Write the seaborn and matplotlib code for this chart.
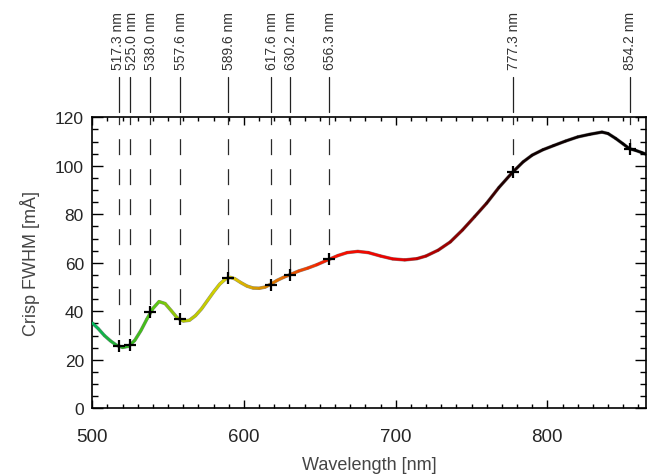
import numpy as np
import pandas as pd
import matplotlib
matplotlib.use("Agg")
import matplotlib.pyplot as plt
import matplotlib.transforms as mtransforms
from matplotlib.collections import LineCollection
from matplotlib.colors import LinearSegmentedColormap
from matplotlib.ticker import MultipleLocator
import seaborn as sns

# ---- data ----
wavelength = [500, 504, 508, 512, 516, 520, 524, 528, 532, 536, 540, 544, 548, 552,
              556, 560, 564, 568, 572, 576, 580, 584, 588, 591, 594, 598, 602, 606,
              610, 614, 618, 622, 626, 630, 636, 642, 648, 656, 662, 668, 675, 682,
              690, 698, 706, 714, 720, 728, 736, 744, 752, 760, 768, 777, 784, 790,
              797, 804, 812, 820, 828, 836, 840, 845, 850, 854.2, 858, 862, 865]
fwhm = [35.2, 32.8, 30.0, 27.8, 26.0, 25.1, 25.6, 28.0, 32.0, 36.8, 41.2, 44.0, 43.2, 40.3,
        37.3, 36.0, 36.3, 38.2, 41.0, 44.5, 48.0, 51.2, 53.4, 54.0, 53.4, 51.8, 50.4, 49.6,
        49.5, 50.0, 51.3, 52.8, 54.0, 55.0, 56.6, 57.8, 59.2, 61.4, 63.0, 64.2, 64.7, 64.2,
        62.8, 61.6, 61.2, 61.7, 62.8, 65.2, 68.6, 73.5, 79.0, 84.6, 91.0, 97.3, 101.6, 104.4,
        106.6, 108.3, 110.2, 111.9, 113.0, 113.9, 113.3, 111.3, 109.0, 107.0, 106.4, 105.5, 104.8]

line_wl = [517.3, 525.0, 538.0, 557.6, 589.6, 617.6, 630.2, 656.3, 777.3, 854.2]
line_fwhm = [25.8, 26.1, 39.7, 36.7, 53.9, 51.0, 55.1, 61.5, 97.3, 107.0]
line_labels = ["517.3 nm", "525.0 nm", "538.0 nm", "557.6 nm", "589.6 nm",
               "617.6 nm", "630.2 nm", "656.3 nm", "777.3 nm", "854.2 nm"]

x_ticks = [500, 600, 700, 800]
y_ticks = [0, 20, 40, 60, 80, 100, 120]

curve = pd.DataFrame({"wl": wavelength, "fwhm": fwhm})
marks = pd.DataFrame({"wl": line_wl, "fwhm": line_fwhm})

# ---- style ----
sns.set_style("ticks")
plt.rcParams["font.family"] = ["Liberation Sans", "DejaVu Sans"]
plt.rcParams["lines.scale_dashes"] = False

fig = plt.figure(figsize=(6.63, 4.77), dpi=100)
ax = fig.add_axes([0.1392, 0.1419, 0.8351, 0.6101])

# wavelength colour map (style)
stops = [(500, (0.00, 0.72, 0.38)), (517, (0.16, 0.67, 0.16)), (540, (0.32, 0.78, 0.08)),
         (560, (0.70, 0.78, 0.00)), (590, (0.87, 0.83, 0.00)), (608, (0.84, 0.60, 0.00)),
         (630, (0.90, 0.36, 0.00)), (656, (0.97, 0.08, 0.00)), (700, (0.92, 0.00, 0.00)),
         (740, (0.55, 0.00, 0.00)), (777, (0.08, 0.00, 0.00)), (865, (0.00, 0.00, 0.00))]
lo, hi = 500.0, 865.0
cmap = LinearSegmentedColormap.from_list(
    "wl", [((w - lo) / (hi - lo), c) for w, c in stops])

# dashed vertical lines from the top of the plot down to each line
for w, v in zip(line_wl, line_fwhm):
    ax.plot([w, w], [120, v], color="#2a2a2a", lw=0.9,
            ls=(6.0, (11.5, 10.1)), zorder=1)

# dark base line + coloured curve
sns.lineplot(data=curve, x="wl", y="fwhm", sort=False, color="black", lw=2.5,
             alpha=0.45, ax=ax, zorder=2)
pts = curve[["wl", "fwhm"]].to_numpy()
segs = np.stack([pts[:-1], pts[1:]], axis=1)
mids = (pts[:-1, 0] + pts[1:, 0]) / 2
lc = LineCollection(segs, colors=cmap((mids - lo) / (hi - lo)), linewidths=1.9,
                    capstyle="round", joinstyle="round", zorder=3)
ax.add_collection(lc)

# plus markers
sns.scatterplot(data=marks, x="wl", y="fwhm", marker="+", color="black", s=85,
                linewidth=1.6, ax=ax, zorder=4)

# annotation lines and labels above the axes
trans = mtransforms.blended_transform_factory(ax.transData, ax.transAxes)
label_shift = {"517.3 nm": -0.6, "525.0 nm": 1.4}
for w, lab in zip(line_wl, line_labels):
    ax.plot([w, w], [1.018, 1.1385], color="#222222", lw=0.9, transform=trans,
            clip_on=False)
    ax.text(w + label_shift.get(lab, 0.6), 1.166, lab, rotation=90, ha="center",
            va="bottom", fontsize=10, color="#333333", transform=trans)

# axes
ax.set_xlim(500, 865)
ax.set_ylim(0, 120)
ax.set_xticks(x_ticks)
ax.set_yticks(y_ticks)
ax.xaxis.set_minor_locator(MultipleLocator(10))
ax.yaxis.set_minor_locator(MultipleLocator(5))
for s in ax.spines.values():
    s.set_visible(True)
    s.set_linewidth(1.2)
    s.set_color("black")
ax.tick_params(axis="both", which="both", direction="in", top=True, right=True,
               color="black", width=1.0)
ax.tick_params(axis="x", which="major", length=6, pad=14, labelsize=13.5)
ax.tick_params(axis="x", which="minor", length=3)
ax.tick_params(axis="y", which="major", length=8, pad=6, labelsize=12.5)
ax.tick_params(axis="y", which="minor", length=4.3)

ax.set_xlabel("Wavelength [nm]", fontsize=13, color="#454545", labelpad=8)
ax.set_ylabel("Crisp FWHM [mÅ]", fontsize=13, color="#454545", labelpad=11)
ax.grid(False)

fig.savefig("out.png", dpi=100)
